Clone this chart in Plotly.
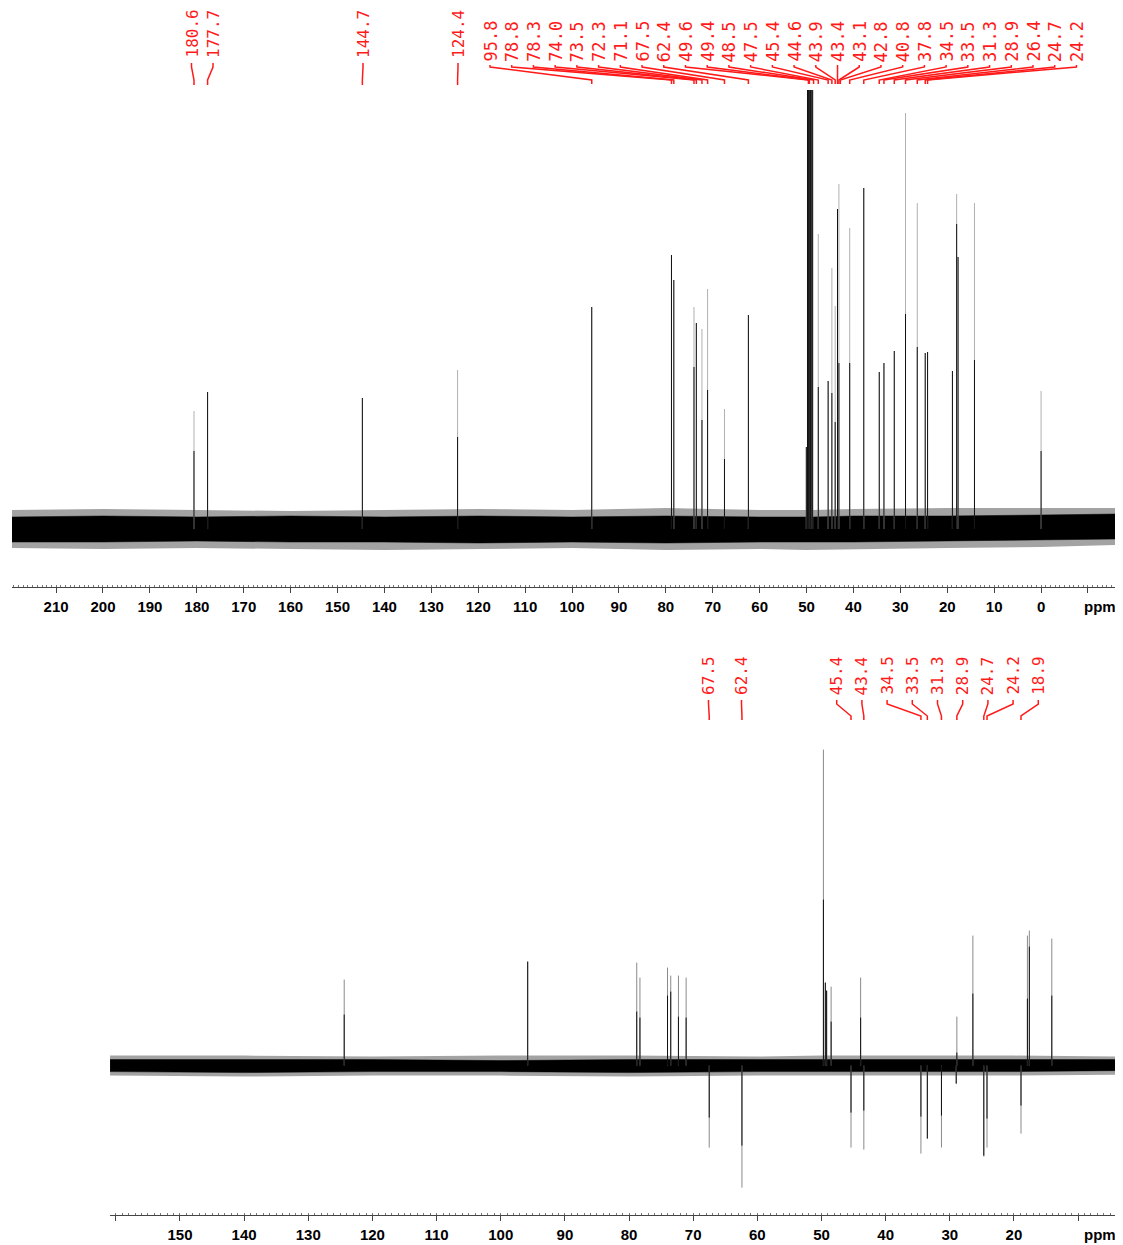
import plotly.graph_objects as go

# ---------------- data ----------------
# Top panel: 13C spectrum; heights in px above baseline (full = faint tip, core = dark part)
top_ppm = [180.6, 177.7, 144.7, 124.4, 95.8, 78.8, 78.3, 74.0, 73.5, 72.3, 71.1, 67.5, 62.4,
           50.05, 49.8, 49.6, 49.4, 49.15, 48.9, 48.7,
           47.5, 45.4, 44.6, 43.9, 43.4, 43.1, 40.8, 37.8, 34.5, 33.5, 31.3, 28.9, 26.4,
           24.7, 24.2, 18.9, 18.0, 17.7, 14.2, 0.0]
top_full = [118, 137, 131, 159, 222, 274, 249, 222, 206, 200, 240, 120, 214,
            82, 600, 600, 600, 600, 600, 600,
            295, 148, 261, 223, 320, 345, 301, 341, 157, 166, 178, 416, 326,
            176, 177, 158, 335, 272, 326, 138]
top_core = [78, 137, 131, 92, 222, 274, 249, 162, 206, 109, 139, 70, 214,
            82, 600, 600, 600, 600, 600, 600,
            142, 148, 136, 107, 320, 166, 166, 341, 157, 166, 178, 215, 182,
            176, 177, 158, 305, 272, 169, 78]

top_labels_single = [180.6, 177.7, 144.7, 124.4]
top_labels_cluster = [95.8, 78.8, 78.3, 74.0, 73.5, 72.3, 71.1, 67.5, 62.4, 49.6, 49.4,
                      48.5, 47.5, 45.4, 44.6, 43.9, 43.4, 43.1, 42.8, 40.8, 37.8, 34.5,
                      33.5, 31.3, 28.9, 26.4, 24.7, 24.2]

# Bottom panel: DEPT-135 (positive CH/CH3, negative CH2)
bot_ppm = [124.4, 95.8, 78.8, 78.3, 74.0, 73.5, 72.3, 71.1, 67.5, 62.4,
           49.7, 49.4, 49.2, 48.5, 45.4, 43.9, 43.4, 34.5, 33.5, 31.3, 28.9, 29.0,
           26.4, 24.7, 24.2, 18.9, 17.9, 17.6, 14.1]
bot_full = [86, 104, 103, 88, 98, 90, 90, 88, -82, -122,
            316, 83, 75, 79, -82, 88, -84, -88, -73, -82, 49, -18,
            130, -91, -82, -68, 130, 135, 127]
bot_core = [51, 104, 54, 48, 70, 74, 49, 48, -52, -80,
            166, 83, 75, 44, -47, 48, -45, -51, -73, -50, 13, -18,
            72, -90, -53, -40, 67, 119, 70]

bot_labels_single = [67.5, 62.4]
bot_labels_cluster = [45.4, 43.4, 34.5, 33.5, 31.3, 28.9, 24.7, 24.2, 18.9]

# noise band envelopes (px around baseline)
noise_top_ppm = [219.4, 200, 180, 160, 140, 120, 100, 80, 60, 50.2, 48.6, 40, 20, 0, -16.4]
noise_top_hi = [12, 13, 12, 13, 12, 13, 12, 13, 12, 12, 12, 13, 13, 14, 15]
noise_top_lo = [-13, -13, -12, -13, -13, -14, -13, -14, -13, -13, -13, -13, -12, -11, -10]
noise_top_spk_hi = [19, 20, 19, 18, 19, 20, 19, 21, 19, 19, 19, 20, 21, 21, 21]
noise_top_spk_lo = [-19, -20, -19, -20, -21, -20, -19, -21, -20, -21, -21, -20, -19, -18, -16]

noise_bot_ppm = [160.9, 140, 120, 100, 80, 60, 50, 40, 20, 3.8]
noise_bot_hi = [6, 6, 6, 5, 6, 6, 6, 6, 6, 6]
noise_bot_lo = [-6, -7, -6, -6, -7, -6, -6, -6, -6, -5]
noise_bot_spk_hi = [10, 10, 9, 10, 10, 9, 10, 10, 10, 9]
noise_bot_spk_lo = [-10, -11, -10, -10, -11, -10, -10, -10, -10, -9]

top_ticks = list(range(210, -11, -10))
bot_ticks = list(range(160, 9, -10))

# ---------------- layout constants (reference-picture pixels) ----------------
OFF = 8                      # default page body margin
W, H = 1123 - OFF, 1245 - OFF
TOP_X = (12, 1118)
TOP_RANGE = [219.4, -16.4]
TOP_Y_PX = (90, 587)
TOP_BASE = 529
BOT_X = (110, 1118)
BOT_RANGE = [160.91, 3.78]
BOT_Y_PX = (745, 1215)
BOT_BASE = 1065.6


def py(px):
    return 1 - (px - OFF) / H


def pxf(px):
    return (px - OFF) / W


def px_to_ppm(px, dom, rng):
    return rng[0] + (px - dom[0]) * (rng[1] - rng[0]) / (dom[1] - dom[0])


def sticks(ppm, h):
    xs, ys = [], []
    for p, v in zip(ppm, h):
        xs += [p, p, None]
        ys += [0, v, None]
    return xs, ys


def band(ppm, hi, lo):
    return list(ppm) + list(ppm)[::-1], list(hi) + list(lo)[::-1]


fig = go.Figure()

for xa, ya, nppm, shi, slo, chi, clo in [
    ("x", "y", noise_top_ppm, noise_top_spk_hi, noise_top_spk_lo, noise_top_hi, noise_top_lo),
    ("x2", "y2", noise_bot_ppm, noise_bot_spk_hi, noise_bot_spk_lo, noise_bot_hi, noise_bot_lo),
]:
    bx, by = band(nppm, shi, slo)
    fig.add_trace(go.Scatter(x=bx, y=by, xaxis=xa, yaxis=ya, mode="lines", fill="toself",
                             line=dict(width=0), fillcolor="rgba(50,50,50,0.45)",
                             hoverinfo="skip", showlegend=False))
    bx, by = band(nppm, chi, clo)
    fig.add_trace(go.Scatter(x=bx, y=by, xaxis=xa, yaxis=ya, mode="lines", fill="toself",
                             line=dict(width=0.5, color="#000"), fillcolor="#000",
                             hoverinfo="skip", showlegend=False))

for xa, ya, ppm, full, core, grey in [
    ("x", "y", top_ppm, top_full, top_core, "#b0b0b0"),
    ("x2", "y2", bot_ppm, bot_full, bot_core, "#8a8a8a"),
]:
    sx, sy = sticks(ppm, full)
    fig.add_trace(go.Scatter(x=sx, y=sy, xaxis=xa, yaxis=ya, mode="lines",
                             line=dict(color=grey, width=1), hoverinfo="skip", showlegend=False))
    sx, sy = sticks(ppm, core)
    fig.add_trace(go.Scatter(x=sx, y=sy, xaxis=xa, yaxis=ya, mode="lines",
                             line=dict(color="#111", width=1), hoverinfo="skip", showlegend=False))

# ---------------- peak labels ----------------
annotations = []
shapes = []
RED = "#ff1a1a"
LABEL_FONT = dict(family="DejaVu Sans Mono, Liberation Mono, monospace", color=RED)


def add_label(val, slot_px, dom, rng, xref, text_bottom, ya, yb, yc, yd, size):
    sx = px_to_ppm(slot_px, dom, rng)
    annotations.append(dict(text=f"{val:.1f}", x=sx, xref=xref, y=py(text_bottom), yref="paper",
                            xanchor="center", yanchor="bottom", textangle=-90, showarrow=False,
                            font=dict(size=size, **LABEL_FONT), borderpad=0))
    path = (f"M {sx},{py(ya)} L {sx},{py(yb)} L {val},{py(yc)} L {val},{py(yd)}")
    shapes.append(dict(type="path", path=path, xref=xref, yref="paper",
                       line=dict(color=RED, width=1.5)))


top_single_slots = [191.5, 213, 363, 458]
for v, s in zip(top_labels_single, top_single_slots):
    add_label(v, s, TOP_X, TOP_RANGE, "x", 59, 63, 67, 80, 85, 16)
for i, v in enumerate(top_labels_cluster):
    add_label(v, 490 + i * 21.72, TOP_X, TOP_RANGE, "x", 63, 65, 67, 80, 84, 17)

bot_single_slots = [708.5, 741.5]
for v, s in zip(bot_labels_single, bot_single_slots):
    add_label(v, s, BOT_X, BOT_RANGE, "x2", 696, 700, 704, 716, 720, 16)
for i, v in enumerate(bot_labels_cluster):
    add_label(v, 836.7 + i * 25.2, BOT_X, BOT_RANGE, "x2", 696, 700, 704, 716, 720, 16)

AX_FONT = dict(family="Liberation Sans, Arial, sans-serif", size=15, color="#000", weight="bold")
for yc in (606, 1234):
    annotations.append(dict(text="ppm", x=pxf(1100), xref="paper", y=py(yc), yref="paper",
                            xanchor="center", yanchor="middle", showarrow=False, font=AX_FONT))


def xaxis_cfg(dom, rng, ticks, blank, anchor):
    return dict(domain=[pxf(dom[0]), pxf(dom[1])], range=rng, anchor=anchor,
                tickmode="array", tickvals=ticks,
                ticktext=["" if t in blank else str(t) for t in ticks],
                showline=True, linecolor="#444", linewidth=1,
                ticks="outside", ticklen=5, tickcolor="#444", tickwidth=1,
                minor=dict(tickmode="linear", tick0=0, dtick=1, ticks="inside", ticklen=2,
                           tickcolor="#777", tickwidth=1),
                tickfont=AX_FONT, ticklabelstandoff=1,
                showgrid=False, zeroline=False, fixedrange=True)


def yaxis_cfg(dom_px, base, anchor):
    lo = -(dom_px[1] - base)
    hi = base - dom_px[0]
    return dict(domain=[py(dom_px[1]), py(dom_px[0])], range=[lo, hi], anchor=anchor,
                visible=False, showgrid=False, zeroline=False)


fig.update_layout(
    width=W, height=H,
    margin=dict(l=0, r=0, t=0, b=0),
    paper_bgcolor="white", plot_bgcolor="white",
    showlegend=False,
    xaxis=xaxis_cfg(TOP_X, TOP_RANGE, top_ticks, {-10}, "y"),
    yaxis=yaxis_cfg(TOP_Y_PX, TOP_BASE, "x"),
    xaxis2=xaxis_cfg(BOT_X, BOT_RANGE, bot_ticks, {160, 10}, "y2"),
    yaxis2=yaxis_cfg(BOT_Y_PX, BOT_BASE, "x2"),
    annotations=annotations,
    shapes=shapes,
)

fig.write_html("out.html")
